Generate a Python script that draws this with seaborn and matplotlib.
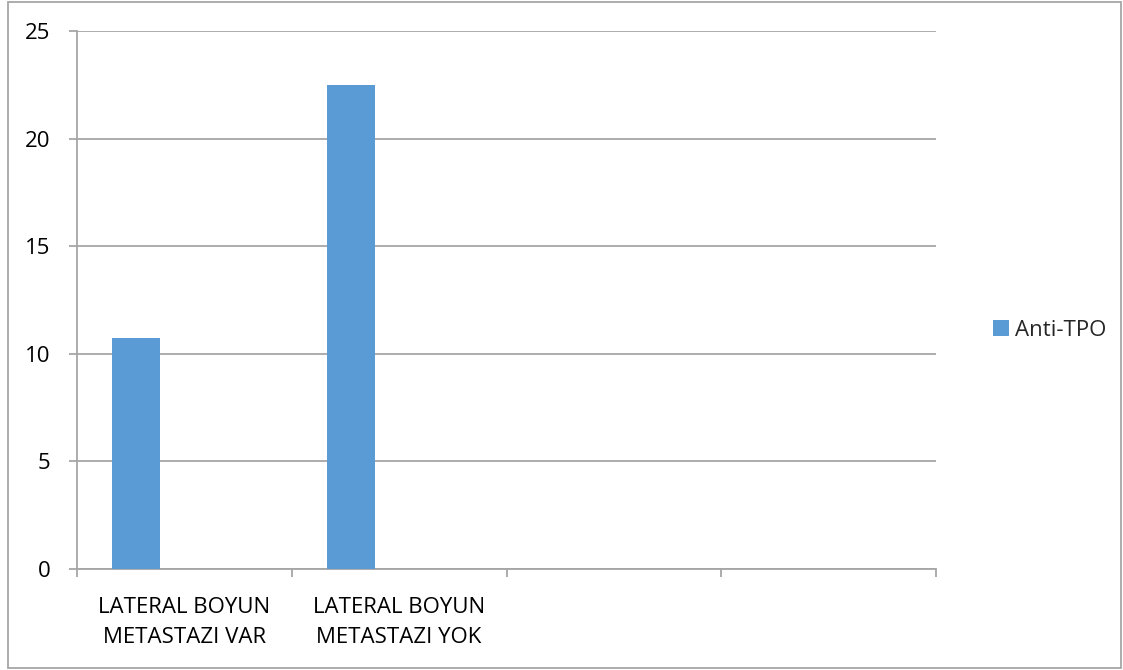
import matplotlib
matplotlib.use("Agg")
import matplotlib.pyplot as plt
from matplotlib.patches import Rectangle
import seaborn as sns
import pandas as pd

# Category slots on the x axis (two labelled groups, two empty slots)
categories = ["LATERAL BOYUN\nMETASTAZI VAR", "LATERAL BOYUN\nMETASTAZI YOK", "", " "]
# Series: only Anti-TPO carries values; the other two series are empty
series = ["Anti-TPO", "Seri 2", "Seri 3"]
anti_tpo = [10.75, 22.5, 0.0, 0.0]
seri2 = [0.0, 0.0, 0.0, 0.0]
seri3 = [0.0, 0.0, 0.0, 0.0]
y_ticks = [0, 5, 10, 15, 20, 25]

rows = []
for name, vals in zip(series, [anti_tpo, seri2, seri3]):
    for cat, v in zip(categories, vals):
        rows.append({"kategori": cat, "seri": name, "deger": v})
df = pd.DataFrame(rows)

sns.set_style("white")
plt.rcParams["font.family"] = ["Open Sans", "DejaVu Sans"]

W, H = 1123, 670
fig = plt.figure(figsize=(W / 100, H / 100), dpi=100)
ax = fig.add_axes([77 / W, (H - 569) / H, (936 - 77) / W, (569 - 31) / H])

grid_c = "#A6A6A6"
bar_c = "#5B9BD5"
fs = 16

sns.barplot(data=df, x="kategori", y="deger", hue="seri", order=categories,
            hue_order=series, palette=[bar_c, bar_c, bar_c], saturation=1,
            width=0.67, gap=0, linewidth=0, legend=False, ax=ax, zorder=3)

ax.set_xlim(-0.5, 3.5)
ax.set_ylim(0, 25)
ax.set_yticks(y_ticks)
ax.set_yticklabels([str(t) for t in y_ticks])
ax.yaxis.grid(True, color=grid_c, linewidth=1.3)
ax.set_axisbelow(True)

# Major ticks at slot boundaries, labels at slot centres
ax.set_xticks([-0.5, 0.5, 1.5, 2.5, 3.5])
ax.set_xticklabels([])
ax.set_xticks(range(len(categories)), minor=True)
ax.set_xticklabels(categories, minor=True, fontsize=fs, color="#000000",
                   linespacing=1.55)
ax.tick_params(axis="x", which="minor", length=0, pad=20)
ax.tick_params(axis="x", which="major", length=6, width=1.3, color=grid_c,
               direction="out")
ax.tick_params(axis="y", length=6, width=1.3, color=grid_c, direction="out",
               pad=13, labelsize=fs, labelcolor="#000000")
ax.tick_params(bottom=True, left=True)
ax.set_xlabel("")
ax.set_ylabel("")

for s in ["top", "right"]:
    ax.spines[s].set_visible(False)
for s in ["left", "bottom"]:
    ax.spines[s].set_color(grid_c)
    ax.spines[s].set_linewidth(1.3)

# Legend showing only the Anti-TPO series
handle = ax.containers[0].patches[0]
fig.legend([handle], ["Anti-TPO"], loc="center left",
           bbox_to_anchor=(982 / W, (H - 330) / H), frameon=False,
           fontsize=fs, handlelength=0.7, handleheight=0.7,
           handletextpad=0.3, borderpad=0)

# Outer chart border
fig.patches.append(Rectangle((8 / W, 2 / H), (1121 - 8) / W, (668 - 2) / H,
                             transform=fig.transFigure, fill=False,
                             edgecolor=grid_c, linewidth=1.3))

fig.savefig("out.png", dpi=100)
